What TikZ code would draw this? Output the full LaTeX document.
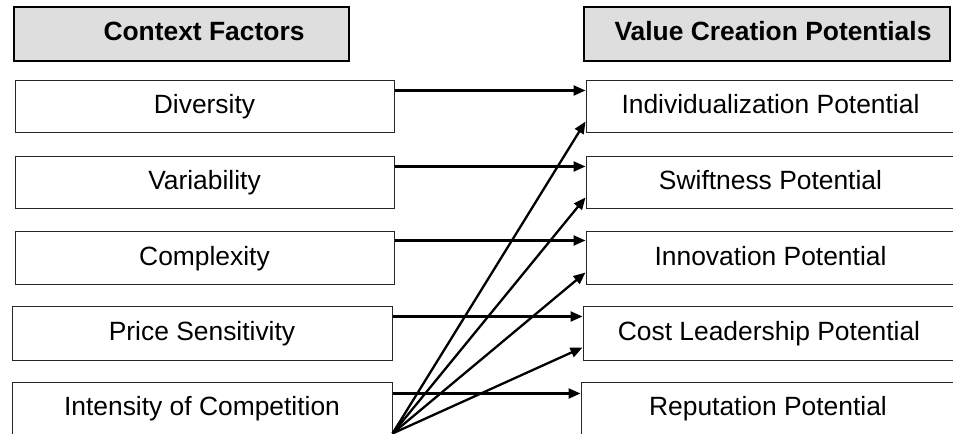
\documentclass[tikz,border=0pt]{standalone}
\usepackage{fontspec}
\setmainfont{Liberation Sans}
\usetikzlibrary{arrows.meta,calc}
\def\px{0.75pt}
\tikzset{
  box/.style={draw=black!85, line width=1*\px, fill=white, inner sep=0pt,
    minimum height=52*\px, font=\fontsize{19.8}{22}\selectfont,
    text height=14.3pt, text depth=4pt},
  header/.style={draw=black, line width=2.2*\px, fill=black!13, inner sep=0pt,
    minimum height=54*\px},
  htext/.style={font=\fontsize{19.8}{22}\selectfont\bfseries, inner sep=0pt,
    text height=14.3pt, text depth=4pt},
  arr/.style={line width=2.3*\px, -{Triangle[length=12*\px,width=10*\px]}}
}
\begin{document}
\begin{tikzpicture}[x=0.75pt,y=-0.75pt]
\useasboundingbox (0,0) rectangle (953,434);
% headers
\node[header, minimum width=335*\px] (cfbox) at (181.5,34) {};
\draw[line width=1.2*\px] ([xshift=1.5*\px]cfbox.north west) -- ([xshift=1.5*\px]cfbox.south west);
\draw[line width=1.2*\px] ([yshift=1.5*\px]cfbox.south west) -- ([yshift=1.5*\px]cfbox.south east);
\node[htext] (cftext) at (204,34) {Context Factors};
\node[header, minimum width=366*\px] (vcbox) at (767,34) {};
\draw[line width=1.2*\px] ([xshift=1.5*\px]vcbox.north west) -- ([xshift=1.5*\px]vcbox.south west);
\draw[line width=1.2*\px] ([yshift=1.5*\px]vcbox.south west) -- ([yshift=1.5*\px]vcbox.south east);
\node[htext] (vctext) at (773,34) {Value Creation Potentials};
% left boxes
\node[box, minimum width=379*\px] (div) at (204.5,107) {Diversity};
\node[box, minimum width=379*\px] (var) at (204.5,183) {Variability};
\node[box, minimum width=379*\px, minimum height=53*\px] (com) at (204.5,258.5) {Complexity};
\node[box, minimum width=380*\px, minimum height=54*\px] (pri) at (202,334) {Price Sensitivity};
\node[box, minimum width=380*\px] (int) at (202,409) {Intensity of Competition};
% right boxes
\node[box, minimum width=369*\px] (ind) at (770.5,107) {Individualization Potential};
\node[box, minimum width=369*\px] (swi) at (770.5,183) {Swiftness Potential};
\node[box, minimum width=369*\px, minimum height=53*\px] (inn) at (770.5,258.5) {Innovation Potential};
\node[box, minimum width=372*\px, minimum height=54*\px] (cos) at (769,334) {Cost Leadership Potential};
\node[box, minimum width=374*\px] (rep) at (768,409) {Reputation Potential};
% horizontal arrows
\draw[arr] ($(div.north east)+(0,10)$) -- ($(ind.north west)+(0,10)$);
\draw[arr] ($(var.north east)+(0,10)$) -- ($(swi.north west)+(0,10)$);
\draw[arr] ($(com.north east)+(0,9)$) -- ($(inn.north west)+(0,9)$);
\draw[arr] ($(pri.north east)+(0,10)$) -- ($(cos.north west)+(0,10)$);
\draw[arr] ($(int.north east)+(0,11)$) -- ($(rep.north west)+(0,11)$);
% diagonal arrows
\coordinate (hub) at ($(int.south east)+(0,-2)$);
\draw[arr] (hub) -- ($(ind.south west)+(0,-12)$);
\draw[arr] (hub) -- ($(swi.south west)+(0,-12)$);
\draw[arr] (hub) -- ($(inn.south west)+(0,-13)$);
\draw[arr] (hub) -- ($(cos.south west)+(0,-14)$);
\end{tikzpicture}
\end{document}
